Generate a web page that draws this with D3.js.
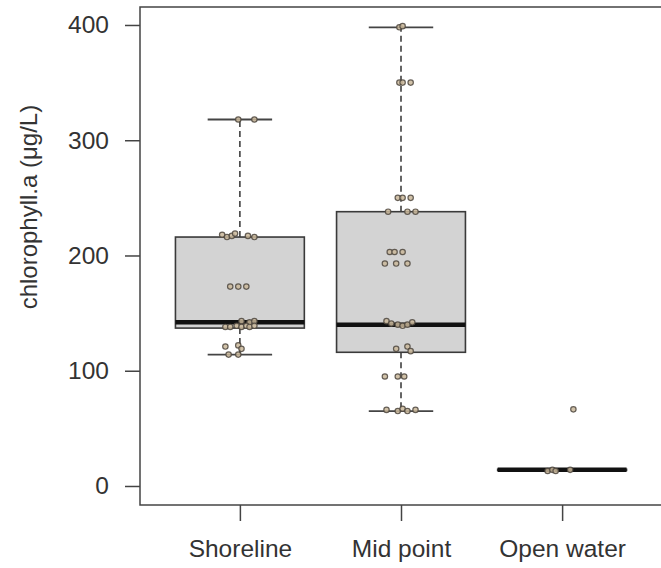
<!DOCTYPE html>
<html>
<head>
<meta charset="utf-8">
<script src="https://cdn.jsdelivr.net/npm/d3@7"></script>
<style>
  body { margin: 0; background: #fff; }
  svg { display: block; font-family: "Liberation Sans", Arial, sans-serif; }
  .tickLbl { fill: #333; font-size: 24.5px; }
  .axisLbl { fill: #333; font-size: 24px; }
</style>
</head>
<body>
<div id="chart"></div>
<script>
// categories and box statistics
let sites = ["Shoreline", "Mid point", "Open water"];
let whiskerLow  = [114, 65, 13.5];
let lowerQ      = [137, 116, 13.5];
let medians     = [142, 140, 14];
let upperQ      = [216, 238, 14.5];
let whiskerHigh = [318, 398, 14.5];

// individual samples (values) and their horizontal jitter (fraction of the band step)
let shorelineVals = [318, 318, 218, 216, 217, 219, 217, 216, 173, 173, 173, 143, 142, 143, 138, 138, 139, 138, 139, 138, 139, 121, 122, 119, 114, 114];
let shorelineJit  = [-0.01, 0.09, -0.11, -0.08, -0.05, -0.03, 0.05, 0.09, -0.06, -0.01, 0.04, 0.01, 0.06, 0.09, -0.09, -0.06, -0.02, 0.01, 0.04, 0.06, 0.09, -0.09, -0.01, 0.01, -0.07, -0.01];

let midVals = [398, 399, 350, 350, 350, 250, 250, 250, 238, 238, 238, 203, 203, 203, 193, 193, 193, 143, 141, 140, 139, 140, 142, 119, 121, 117, 95, 95, 95, 66, 65, 67, 65, 66];
let midJit  = [-0.01, 0.01, -0.01, 0.01, 0.06, -0.02, 0.01, 0.06, -0.08, 0.04, 0.09, -0.07, -0.04, 0.01, -0.10, -0.03, 0.04, -0.09, -0.06, -0.02, 0.01, 0.04, 0.07, -0.03, 0.04, 0.06, -0.10, -0.02, 0.02, -0.09, -0.02, 0.01, 0.04, 0.09];

let openVals = [66.5, 13, 14, 13, 14];
let openJit  = [0.07, -0.09, -0.06, -0.04, 0.05];

let pointVals = [shorelineVals, midVals, openVals];
let pointJit  = [shorelineJit, midJit, openJit];

let yTicks = [0, 100, 200, 300, 400];
let yTitle = "chlorophyll.a (\u03bcg/L)";

let width = 661, height = 568;
let frame = { left: 140, right: 662, top: 7, bottom: 505 };

let svg = d3.select("#chart").append("svg")
            .attr("width", width)
            .attr("height", height);

// R-style: x range is 0.5..3.5 widened by 4%
let xScale = d3.scaleLinear()
               .domain([0.38, 3.62])
               .range([frame.left, frame.right]);
let yScale = d3.scaleLinear()
               .domain([-16.5, 415.6])
               .range([frame.bottom, frame.top]);

let step = xScale(2) - xScale(1);
let boxW = step * 0.8;
let capW = boxW / 2;

let groups = sites.map((s, i) => ({
  site: s,
  pos: i + 1,
  lo: whiskerLow[i], q1: lowerQ[i], med: medians[i], q3: upperQ[i], hi: whiskerHigh[i]
}));

let plot = svg.append("g");

// whiskers (dashed)
plot.selectAll(".whiskUp").data(groups).enter().append("line")
    .attr("x1", d => xScale(d.pos)).attr("x2", d => xScale(d.pos))
    .attr("y1", d => yScale(d.q3)).attr("y2", d => yScale(d.hi))
    .attr("stroke", "#333").attr("stroke-width", 1.5).attr("stroke-dasharray", "6,4");
plot.selectAll(".whiskDn").data(groups).enter().append("line")
    .attr("x1", d => xScale(d.pos)).attr("x2", d => xScale(d.pos))
    .attr("y1", d => yScale(d.q1)).attr("y2", d => yScale(d.lo))
    .attr("stroke", "#333").attr("stroke-width", 1.5).attr("stroke-dasharray", "6,4");

// whisker caps
["hi", "lo"].forEach(k => {
  plot.selectAll(".cap" + k).data(groups).enter().append("line")
      .attr("x1", d => xScale(d.pos) - capW / 2).attr("x2", d => xScale(d.pos) + capW / 2)
      .attr("y1", d => yScale(d[k])).attr("y2", d => yScale(d[k]))
      .attr("stroke", "#444").attr("stroke-width", 1.8);
});

// boxes
plot.selectAll(".box").data(groups).enter().append("rect")
    .attr("x", d => xScale(d.pos) - boxW / 2)
    .attr("width", boxW)
    .attr("y", d => yScale(d.q3))
    .attr("height", d => Math.max(0.5, yScale(d.q1) - yScale(d.q3)))
    .attr("fill", "#d3d3d3")
    .attr("stroke", "#3a3a3a")
    .attr("stroke-width", 1.6);

// medians
plot.selectAll(".med").data(groups).enter().append("line")
    .attr("x1", d => xScale(d.pos) - boxW / 2).attr("x2", d => xScale(d.pos) + boxW / 2)
    .attr("y1", d => yScale(d.med)).attr("y2", d => yScale(d.med))
    .attr("stroke", "#111").attr("stroke-width", 4.5);

// jittered points
let pts = [];
pointVals.forEach((vals, i) => {
  vals.forEach((v, j) => pts.push({ pos: i + 1 + pointJit[i][j], val: v }));
});
plot.selectAll(".pt").data(pts).enter().append("circle")
    .attr("cx", d => xScale(d.pos))
    .attr("cy", d => yScale(d.val))
    .attr("r", 2.7)
    .attr("fill", "#c9b79a")
    .attr("fill-opacity", 0.85)
    .attr("stroke", "#4e473e")
    .attr("stroke-width", 1.2)
    .attr("stroke-opacity", 0.85);

// frame
svg.append("rect")
   .attr("x", frame.left).attr("y", frame.top)
   .attr("width", frame.right - frame.left)
   .attr("height", frame.bottom - frame.top)
   .attr("fill", "none").attr("stroke", "#444").attr("stroke-width", 1.5);

// y axis
let yAxis = d3.axisLeft(yScale).tickValues(yTicks).tickSize(15).tickPadding(16);
let yG = svg.append("g")
   .attr("transform", "translate(" + frame.left + ",0)")
   .call(yAxis);
yG.select(".domain").remove();
yG.selectAll("line").attr("stroke", "#444").attr("stroke-width", 1.5);
yG.selectAll("text").attr("class", "tickLbl").attr("font-family", null).attr("font-size", null).attr("fill", null);

// x axis
let xAxis = d3.axisBottom(xScale).tickValues([1, 2, 3]).tickFormat(i => sites[i - 1]).tickSize(16).tickPadding(19);
let xG = svg.append("g")
   .attr("transform", "translate(0," + frame.bottom + ")")
   .call(xAxis);
xG.select(".domain").remove();
xG.selectAll("line").attr("stroke", "#444").attr("stroke-width", 1.5);
xG.selectAll("text").attr("class", "tickLbl").attr("font-family", null).attr("font-size", null).attr("fill", null);

// y axis title
svg.append("text")
   .attr("class", "axisLbl")
   .attr("transform", "translate(37," + yScale(242) + ") rotate(-90)")
   .attr("text-anchor", "middle")
   .text(yTitle);
</script>
</body>
</html>
